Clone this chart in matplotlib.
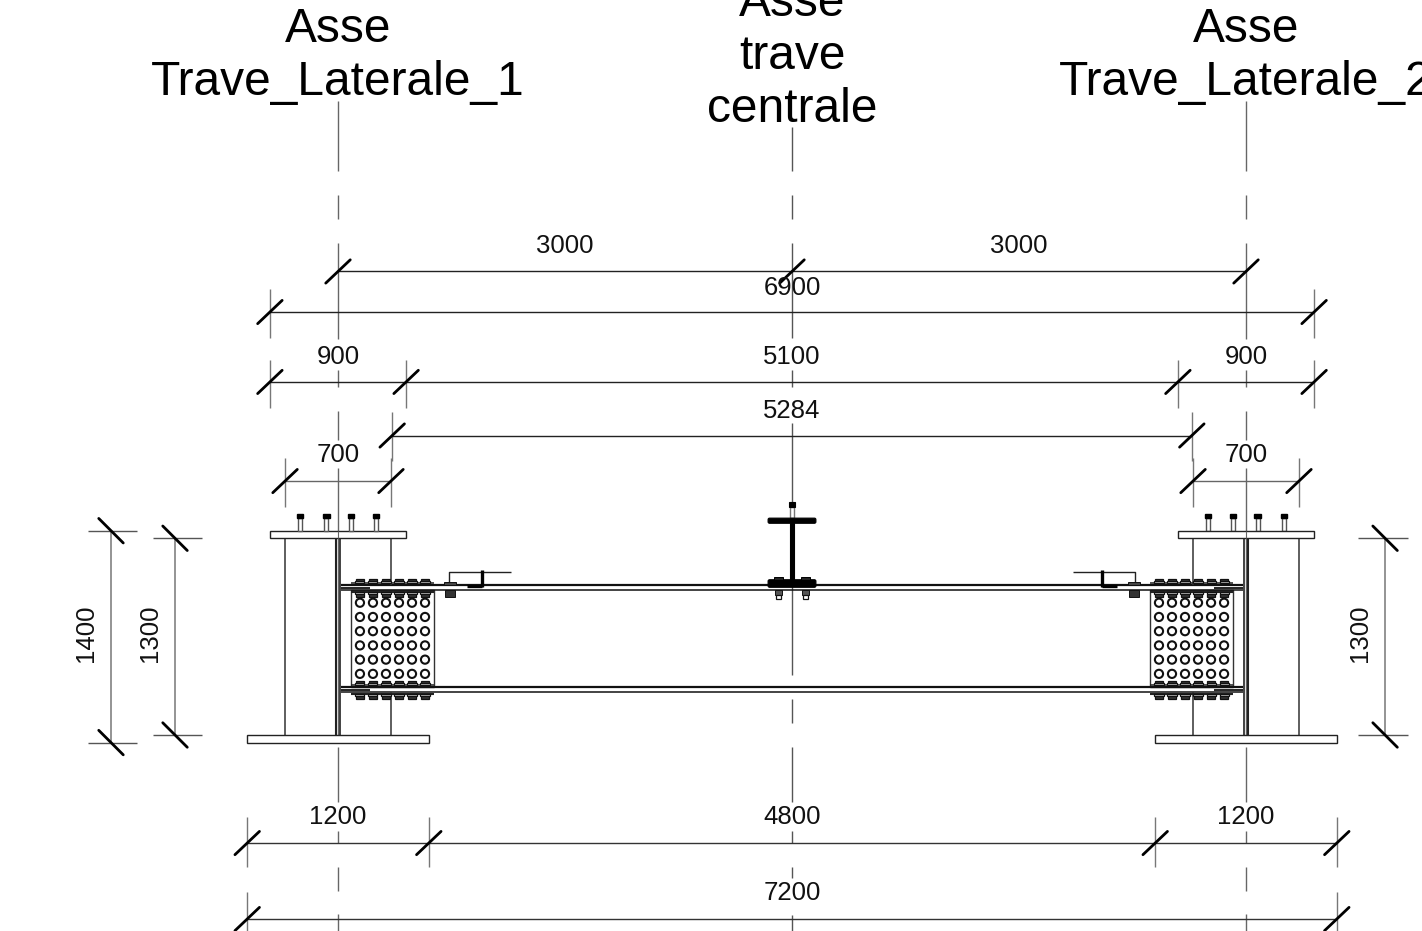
import matplotlib
matplotlib.use("Agg")
import matplotlib.pyplot as plt
from matplotlib.patches import Circle, FancyBboxPatch, Rectangle

plt.rcParams['font.family'] = ['Liberation Sans', 'DejaVu Sans']

# everything below is in drawing mm, x=0 on the central axis, y=0 on top of the bottom plate
SCALE = 454 / 3000  # px per mm
X_PX, Y_PX = 792, 735

# dimension chains: level, tick positions
dim_levels = [3063, 2795, 2333, 1979, 1678, 1678, -714, -1216]
dim_ticks = [[-3000, 0, 3000], [-3450, 3450], [-3450, -2550, 2550, 3450], [-2642, 2642],
             [-3350, -2650], [2650, 3350], [-3600, -2400, 2400, 3600], [-3600, 3600]]
dim_colors = ["#222222", "#222222", "#222222", "#222222", "#666666", "#666666", "#333333", "#333333"]

dim_texts = ["3000", "3000", "6900", "900", "5100", "900", "5284", "700", "700",
             "1200", "4800", "1200", "7200"]
dim_text_x = [-1500, 1497, 0, -3000, 0, 3000, 0, -3000, 3000, -3000, 0, 3000, 0]
dim_text_y = [3228, 3228, 2957, 2501, 2501, 2501, 2144, 1847, 1847, -545, -545, -545, -1047]

# vertical dimensions
vdim_texts = ["1400", "1300", "1300"]
vdim_x = [-4500, -4077, 3919]
vdim_text_x = [-4665, -4243, 3753]
vdim_text_y = 672
vdim_low = [-50, 0, 0]
vdim_high = [1350, 1300, 1300]
vdim_ext = [(-4652, -4328), (-4223, -3900), (3740, 4071)]

# dash-dot axes
side_axis = [(4190, 3727), (3568, 3410), (3251, 2617), (2412, 2300), (2141, 1949), (1764, 0),
             (-79, -443), (-634, -714), (-872, -1031), (-1183, -1295)]
mid_axis = [(4018, 3727), (3568, 3410), (3251, 2623), (2412, 2300), (2062, 396), (238, 79),
            (-79, -443), (-634, -714), (-872, -945), (-1189, -1295)]

# witness lines
witness = [(-3450, 2947, 2623), (3450, 2947, 2623), (-3450, 2478, 2161), (3450, 2478, 2161),
           (-2550, 2478, 2161), (2550, 2478, 2161), (-2642, 2134, 1811), (2642, 2134, 1811),
           (-2650, 1830, 1507), (2650, 1830, 1507), (-3350, 1830, 1507), (3350, 1830, 1507),
           (-3600, -542, -872), (3600, -542, -872), (-2400, -542, -872), (2400, -542, -872),
           (-3600, -1037, -1295), (3600, -1037, -1295)]

# steel parts, left side (right side is mirrored)
stud_x = [-3250, -3078, -2914, -2749]
hole_x = [-2855, -2769, -2683, -2597, -2511, -2425]
hole_y = [874, 780, 686, 592, 498, 404]
flange_y = [991, 958, 317, 284]
mid_bolt_x = [-90, 90]


def line(xs, ys, lw=1.0, color="#222222", **kw):
    ax.plot(xs, ys, color=color, lw=lw, solid_capstyle=kw.pop("cap", "butt"), zorder=kw.pop("zorder", 2), **kw)


def box(x0, x1, y0, y1, fc="white", ec="#222222", lw=1.0, zorder=3):
    ax.add_patch(Rectangle((x0, y0), x1 - x0, y1 - y0, fc=fc, ec=ec, lw=lw, zorder=zorder))


def bolt_head(x0, y0, up=True):
    # nut with a rounded cap, seen from the side
    sign = 1 if up else -1
    box(x0 - 30, x0 + 30, min(y0, y0 + sign * 13), max(y0, y0 + sign * 13), fc="#dddddd", ec="#111111", lw=0.9, zorder=4)
    box(x0 - 24, x0 + 24, min(y0 + sign * 13, y0 + sign * 30), max(y0 + sign * 13, y0 + sign * 30),
        fc="#333333", ec="#111111", lw=0.9, zorder=4)


fig = plt.figure(figsize=(14.22, 9.31), dpi=100)
ax = fig.add_axes([0, 0, 1, 1])
ax.set_xlim(-X_PX / SCALE, (1422 - X_PX) / SCALE)
ax.set_ylim((Y_PX - 931) / SCALE, Y_PX / SCALE)
ax.axis("off")

for x0 in [-3000, 3000]:
    for y0, y1 in side_axis:
        line([x0, x0], [y0, y1], color="#666666", lw=1.0)
for y0, y1 in mid_axis:
    line([0, 0], [y0, y1], color="#555555", lw=1.0)
for x0, y0, y1 in witness:
    line([x0, x0], [y0, y1], color="#777777", lw=1.0)

for lev, ticks, col in zip(dim_levels, dim_ticks, dim_colors):
    line([ticks[0], ticks[-1]], [lev, lev], color=col, lw=1.0)
    for t in ticks:
        line([t - 81, t + 81], [lev - 77, lev + 77], color="black", lw=2.0, cap="round", zorder=4)

for x0, lo, hi, (e0, e1) in zip(vdim_x, vdim_low, vdim_high, vdim_ext):
    line([x0, x0], [lo, hi], color="#777777", lw=1.1)
    for y0 in [lo, hi]:
        line([e0, e1], [y0, y0], color="#555555", lw=1.0)
        line([x0 - 81, x0 + 81], [y0 + 81, y0 - 81], color="black", lw=2.0, cap="round", zorder=4)

for txt, x0, y0 in zip(dim_texts, dim_text_x, dim_text_y):
    ax.text(x0, y0, txt, fontsize=18.5, ha="center", va="center", color="#111111", zorder=6)
for txt, x0 in zip(vdim_texts, vdim_text_x):
    ax.text(x0, vdim_text_y, txt, fontsize=18.5, rotation=90, ha="center", va="center", color="#111111", zorder=6)

# titles
for side in [-1, 1]:
    ax.text(side * 3000, 4582, "Asse", fontsize=34.5, ha="center", va="baseline", color="black")
    ax.text(side * 3000, 4228, "Trave_Laterale_%d" % (1 if side < 0 else 2), fontsize=34.5,
            ha="center", va="baseline", color="black", clip_on=True)
for txt, y0 in zip(["Asse", "trave", "centrale"], [4752, 4402, 4052]):
    ax.text(0, y0, txt, fontsize=34.5, ha="center", va="baseline", color="black", clip_on=True)

# beams between the columns
for i, y0 in enumerate(flange_y):
    line([-2980, 2980], [y0, y0], color="#111111", lw=1.6 if i in (0, 2) else 1.1)

for s in [-1, 1]:
    # column
    box(s * 3450, s * 2550, 1300, 1350)
    box(s * 3600, s * 2400, -50, 0)
    line([s * 3350, s * 3350], [0, 1300], color="#333333", lw=1.1)
    line([s * 2650, s * 2650], [0, 284], color="#333333", lw=1.1)
    line([s * 2650, s * 2650], [991, 1300], color="#333333", lw=1.1)
    line([s * 3010, s * 3010], [0, 1300], color="#222222", lw=1.5)
    line([s * 2985, s * 2985], [0, 1300], color="#222222", lw=1.2)
    line([s * 3000, s * 3000], [1300, 1350], color="#666666", lw=0.8, zorder=5)
    for x0 in stud_x:
        box(s * x0 - 13, s * x0 + 13, 1350, 1434, ec="#555555", lw=1.0)
        box(s * x0 - 22, s * x0 + 22, 1434, 1460, fc="black", ec="black", lw=1.0)

    # web splice
    box(s * 2914, s * 2366, 317, 958, ec="#333333", lw=1.0, zorder=1)
    for hx in hole_x:
        for hy in hole_y:
            ax.add_patch(Circle((s * hx, hy), 27, fc="white", ec="#111111", lw=1.5, zorder=3))

    # flange splices and bolts
    for y_top, y_bot in [(1004, 945), (330, 271)]:
        line([s * 2914, s * 2366], [y_top, y_top], color="#222222", lw=1.1)
        line([s * 2914, s * 2366], [y_bot, y_bot], color="#222222", lw=1.5)
        for hx in hole_x:
            bolt_head(s * hx, y_top)
            bolt_head(s * hx, y_bot, up=False)
    for y_mid in [974, 300]:
        line([s * 2980, s * 2790], [y_mid, y_mid], color="#111111", lw=1.3)

    # purlin cleat
    line([s * 2267, s * 2267, s * 1857], [1004, 1077, 1077], color="#222222", lw=1.0)
    line([s * 2049, s * 2049], [978, 1090], color="black", lw=2.4)
    line([s * 2148, s * 2049], [985, 985], color="black", lw=2.4)
    box(s * 2300, s * 2220, 991, 1010, fc="#444444", ec="#111111", lw=0.7)
    box(s * 2293, s * 2227, 912, 958, fc="#333333", ec="#111111", lw=0.7)

# central I beam
for y0, y1 in [(1401, 1431), (978, 1024)]:
    ax.add_patch(FancyBboxPatch((-150, y0 + 6), 300, y1 - y0 - 12, boxstyle="round,pad=8,rounding_size=10",
                                fc="black", ec="black", lw=0.8, zorder=4))
box(-13, 13, 1024, 1401, fc="black", ec="black", lw=0.8, zorder=4)
box(-13, 13, 1431, 1507, ec="#777777", lw=1.0)
box(-20, 20, 1507, 1540, fc="black", ec="black", lw=0.8)
for bx in mid_bolt_x:
    box(bx - 28, bx + 28, 1024, 1046, fc="#222222", ec="black", lw=0.7, zorder=5)
    box(bx - 25, bx + 25, 925, 958, fc="#555555", ec="#111111", lw=0.7)
    box(bx - 16, bx + 16, 899, 925, fc="white", ec="#111111", lw=0.9)

fig.savefig("out.png", dpi=100, facecolor="white")
